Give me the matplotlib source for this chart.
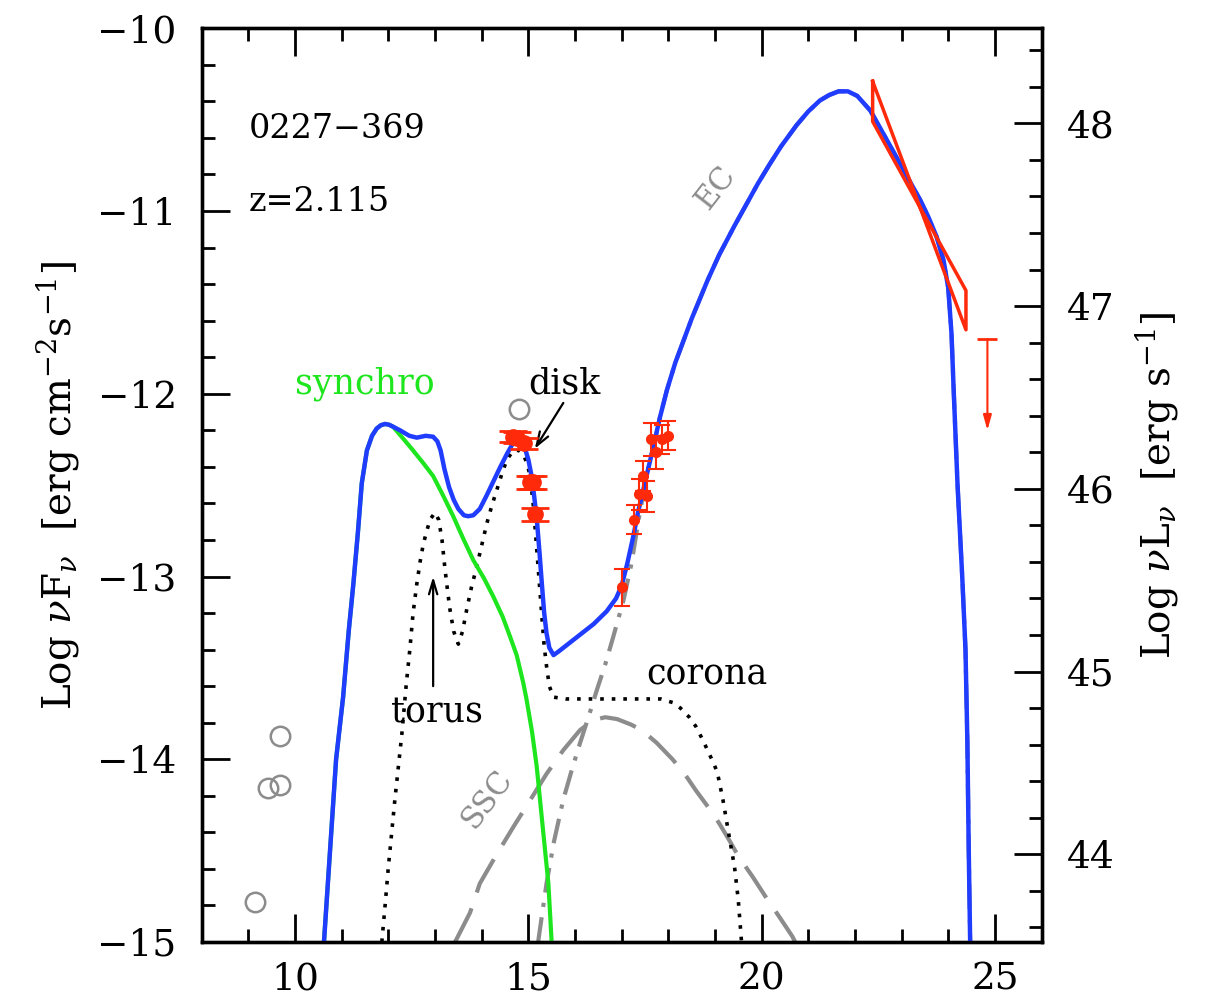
import matplotlib
matplotlib.use("Agg")
import matplotlib.pyplot as plt
from matplotlib.ticker import MultipleLocator

plt.rcParams['font.family'] = ['DejaVu Serif']
plt.rcParams['mathtext.fontset'] = 'dejavuserif'

# ---- SED model components (log nu [Hz], log nuFnu [erg cm^-2 s^-1]) ----
total_x = [10.62, 10.75, 10.88, 11.03, 11.15, 11.25, 11.35, 11.43, 11.54, 11.65,
           11.75, 11.84, 11.93, 12.02, 12.10, 12.25, 12.45, 12.61, 12.80, 12.96,
           13.05, 13.12, 13.20, 13.30, 13.40, 13.50, 13.62, 13.71, 13.82, 13.96,
           14.10, 14.25, 14.40, 14.54, 14.65, 14.75, 14.85, 14.93, 15.00, 15.07,
           15.12, 15.18, 15.24, 15.29, 15.34, 15.39, 15.45, 15.54, 15.65, 15.85,
           16.10, 16.40, 16.68, 16.88, 17.00, 17.12, 17.25, 17.35, 17.46, 17.57,
           17.68, 17.82, 17.97, 18.15, 18.34, 18.50, 18.84, 19.09, 19.42, 19.67,
           19.92, 20.17, 20.42, 20.75, 21.00, 21.25, 21.45, 21.65, 21.85, 22.05,
           22.33, 22.66, 22.90, 23.16, 23.40, 23.57, 23.75, 23.90, 24.00, 24.07,
           24.12, 24.20, 24.30, 24.37, 24.41, 24.44, 24.47]
total_y = [-15.00, -14.50, -14.00, -13.66, -13.30, -13.04, -12.75, -12.49, -12.31, -12.23,
           -12.19, -12.172, -12.165, -12.17, -12.18, -12.20, -12.23, -12.24, -12.23, -12.235,
           -12.26, -12.31, -12.41, -12.51, -12.58, -12.63, -12.665, -12.67, -12.665, -12.63,
           -12.56, -12.48, -12.40, -12.33, -12.28, -12.25, -12.26, -12.30, -12.36, -12.45,
           -12.55, -12.68, -12.87, -13.04, -13.20, -13.31, -13.39, -13.43, -13.41, -13.37,
           -13.32, -13.26, -13.19, -13.12, -13.05, -12.93, -12.78, -12.65, -12.53, -12.41,
           -12.29, -12.13, -11.98, -11.83, -11.70, -11.59, -11.38, -11.24, -11.08, -10.965,
           -10.85, -10.745, -10.645, -10.53, -10.455, -10.395, -10.365, -10.345, -10.345, -10.37,
           -10.45, -10.60, -10.71, -10.83, -10.94, -11.03, -11.14, -11.27, -11.42, -11.67,
           -12.00, -12.50, -13.00, -13.40, -13.90, -14.50, -15.00]

synchro_x = [10.62, 10.75, 10.88, 11.03, 11.15, 11.25, 11.35, 11.43, 11.54, 11.65,
             11.75, 11.84, 11.93, 12.02, 12.10, 12.30, 12.53, 12.75, 12.96, 13.18,
             13.39, 13.60, 13.82, 14.05, 14.25, 14.45, 14.61, 14.75, 14.89, 14.96,
             15.08, 15.18, 15.32, 15.43, 15.50]
synchro_y = [-15.00, -14.50, -14.00, -13.66, -13.30, -13.04, -12.75, -12.49, -12.31, -12.23,
             -12.19, -12.172, -12.165, -12.17, -12.18, -12.24, -12.31, -12.38, -12.45, -12.56,
             -12.67, -12.79, -12.91, -13.01, -13.11, -13.22, -13.33, -13.43, -13.58, -13.67,
             -13.85, -14.04, -14.40, -14.68, -15.00]

thermal_x = [11.86, 11.93, 12.00, 12.14, 12.29, 12.38, 12.46, 12.53, 12.61, 12.68,
             12.75, 12.89, 13.00, 13.08, 13.15, 13.21, 13.27, 13.32, 13.40, 13.50,
             13.59, 13.68, 13.78, 13.89, 14.00, 14.11, 14.22, 14.32, 14.43, 14.54,
             14.68, 14.80, 14.89, 14.97, 15.04, 15.11, 15.18, 15.24, 15.29, 15.34,
             15.39, 15.45, 15.54, 15.80, 16.50, 17.20, 17.84, 18.10, 18.26, 18.45,
             18.59, 18.75, 18.84, 18.95, 19.05, 19.17, 19.29, 19.42, 19.50, 19.57]
thermal_y = [-15.00, -14.80, -14.59, -14.22, -13.86, -13.60, -13.40, -13.20, -13.04, -12.92,
             -12.82, -12.69, -12.65, -12.69, -12.80, -12.95, -13.08, -13.18, -13.30, -13.37,
             -13.30, -13.18, -13.06, -12.95, -12.83, -12.71, -12.61, -12.53, -12.44, -12.36,
             -12.31, -12.31, -12.33, -12.38, -12.45, -12.62, -12.85, -13.05, -13.22, -13.38,
             -13.49, -13.60, -13.66, -13.67, -13.67, -13.67, -13.67, -13.69, -13.72, -13.77,
             -13.82, -13.90, -13.95, -14.01, -14.07, -14.22, -14.40, -14.59, -14.77, -15.00]

ssc_x = [13.43, 13.75, 13.96, 14.30, 14.68, 15.00, 15.39, 15.75, 16.11, 16.40,
         16.65, 16.90, 17.20, 17.43, 17.75, 18.09, 18.35, 18.59, 18.85, 19.09,
         19.30, 19.50, 19.80, 20.08, 20.40, 20.66, 20.72]
ssc_y = [-15.00, -14.84, -14.68, -14.53, -14.37, -14.24, -14.08, -13.95, -13.84, -13.785,
         -13.77, -13.78, -13.81, -13.84, -13.91, -14.00, -14.08, -14.17, -14.26, -14.35,
         -14.44, -14.53, -14.64, -14.75, -14.87, -14.97, -15.00]

ec_x = [15.21, 15.39, 15.55, 15.75, 15.93, 16.11, 16.30, 16.47, 16.65, 16.82,
        17.04, 17.21, 17.39, 17.55, 17.68, 17.82, 17.97, 18.15, 18.34, 18.50,
        18.84, 19.09, 19.42, 19.67, 19.92, 20.17, 20.42, 20.75, 21.00, 21.25,
        21.45, 21.65, 21.85, 22.05, 22.33, 22.66, 22.90, 23.16, 23.40, 23.57,
        23.75, 23.90, 24.00, 24.07, 24.12, 24.20, 24.30, 24.37, 24.41, 24.44,
        24.47]
ec_y = [-15.00, -14.68, -14.45, -14.22, -14.06, -13.91, -13.76, -13.62, -13.48, -13.33,
        -13.13, -12.93, -12.65, -12.43, -12.29, -12.13, -11.98, -11.83, -11.70, -11.59,
        -11.38, -11.24, -11.08, -10.965, -10.85, -10.745, -10.645, -10.53, -10.455, -10.395,
        -10.365, -10.345, -10.345, -10.37, -10.45, -10.60, -10.71, -10.83, -10.94, -11.03,
        -11.14, -11.27, -11.42, -11.67, -12.00, -12.50, -13.00, -13.40, -13.90, -14.50,
        -15.00]

# ---- observed data ----
opt_x = [14.68, 14.76, 14.90, 15.04, 15.10, 15.14]
opt_y = [-12.235, -12.24, -12.27, -12.485, -12.485, -12.66]
opt_err = [0.03, 0.03, 0.03, 0.035, 0.035, 0.035]

xray_x = [17.00, 17.26, 17.38, 17.46, 17.54, 17.64, 17.73, 17.86, 18.00]
xray_y = [-13.06, -12.69, -12.55, -12.45, -12.56, -12.25, -12.32, -12.25, -12.23]
xray_err = [0.10, 0.08, 0.085, 0.08, 0.085, 0.09, 0.09, 0.08, 0.08]

archive_x = [9.14, 9.43, 9.68, 9.68, 14.81]
archive_y = [-14.78, -14.16, -14.14, -13.87, -12.085]

# Fermi/LAT butterfly (closed outline)
bowtie_x = [22.38, 24.38, 24.38, 22.38, 22.38]
bowtie_y = [-10.29, -11.65, -11.435, -10.51, -10.29]

ul_x, ul_y = 24.84, -11.70

LUM_OFFSET = 58.52   # log(4 pi d_L^2) for z = 2.115

BLUE = '#1f3cff'
GREEN = '#1ee61e'
RED = '#ff2a0a'
GREY = '#8c8c8c'

fig = plt.figure(figsize=(12.08, 10), dpi=100)
ax = fig.add_axes([0.167, 0.058, 0.6952, 0.9137])
ax.set_xlim(8, 26)
ax.set_ylim(-15, -10)

# components
ax.plot(ssc_x, ssc_y, color=GREY, lw=3, ls=(0, (9, 4)), zorder=2)
ax.plot(ec_x, ec_y, color=GREY, lw=3, ls=(0, (6, 2.5, 1, 2.5)), zorder=2)
ax.plot(thermal_x, thermal_y, color='black', lw=2.6, ls=(0, (1, 2.2)), zorder=3)
ax.plot(synchro_x, synchro_y, color=GREEN, lw=3, zorder=3, solid_joinstyle='round')
ax.plot(total_x, total_y, color=BLUE, lw=3.2, zorder=4, solid_joinstyle='round')

# data
ax.plot(archive_x, archive_y, 'o', mfc='none', mec=GREY, mew=1.8, ms=14, zorder=5)
ax.errorbar(opt_x, opt_y, yerr=opt_err, fmt='o', color=RED, ms=11,
            elinewidth=2, capsize=10, capthick=2, zorder=6)
ax.errorbar(xray_x, xray_y, yerr=xray_err, fmt='o', color=RED, ms=7,
            elinewidth=1.5, capsize=6, capthick=1.5, zorder=6)
ax.plot(bowtie_x, bowtie_y, color=RED, lw=2.5, zorder=6)
ax.plot([ul_x], [ul_y], marker='_', color=RED, ms=14, mew=2, zorder=6)
ax.annotate('', xy=(ul_x, ul_y - 0.5), xytext=(ul_x, ul_y),
            arrowprops=dict(arrowstyle='-|>,head_length=0.9,head_width=0.25',
                            color=RED, lw=1.5, shrinkA=0, shrinkB=0), zorder=6)

# labels
ax.text(9.0, -10.60, '0227\u2212369', fontsize=24, ha='left', va='baseline')
ax.text(9.0, -11.00, 'z=2.115', fontsize=24, ha='left', va='baseline')
ax.text(10.0, -12.0, 'synchro', fontsize=25, color=GREEN, ha='left', va='baseline')
ax.text(15.0, -12.0, 'disk', fontsize=25, ha='left', va='baseline')
ax.text(13.05, -13.80, 'torus', fontsize=25, ha='center', va='baseline')
ax.text(17.52, -13.59, 'corona', fontsize=25, ha='left', va='baseline')
ax.text(19.02, -10.87, 'EC', fontsize=22, color=GREY, rotation=52,
        ha='center', va='center')
ax.text(14.11, -14.22, 'SSC', fontsize=22, color=GREY, rotation=53,
        ha='center', va='center')

ax.annotate('', xy=(15.14, -12.30), xytext=(15.75, -12.05),
            arrowprops=dict(arrowstyle='->,head_length=1.0,head_width=0.35',
                            color='black', lw=1.6, shrinkA=0, shrinkB=0))
ax.annotate('', xy=(12.96, -13.0), xytext=(12.96, -13.60),
            arrowprops=dict(arrowstyle='->,head_length=1.0,head_width=0.3',
                            color='black', lw=1.6, shrinkA=0, shrinkB=0))

ax.set_ylabel(r'Log $\nu$F$_\nu$  [erg cm$^{-2}$s$^{-1}$]', fontsize=28, labelpad=12)

# right axis in luminosity
ax2 = ax.twinx()
ax2.set_ylim(-15 + LUM_OFFSET, -10 + LUM_OFFSET)
ax2.set_ylabel(r'Log $\nu$L$_\nu$  [erg s$^{-1}$]', fontsize=28, labelpad=14)

ax.xaxis.set_major_locator(MultipleLocator(5))
ax.xaxis.set_minor_locator(MultipleLocator(1))
ax.yaxis.set_major_locator(MultipleLocator(1))
ax.yaxis.set_minor_locator(MultipleLocator(0.2))
ax2.yaxis.set_major_locator(MultipleLocator(1))
ax2.yaxis.set_minor_locator(MultipleLocator(0.2))

ax.tick_params(axis='x', which='both', direction='in', top=True, bottom=True,
               labelsize=27, pad=14)
ax.tick_params(axis='y', which='both', direction='in', left=True, right=False,
               labelsize=27, pad=18)
ax2.tick_params(axis='y', which='both', direction='in', left=False, right=True,
                labelsize=27, pad=18)
for a in (ax, ax2):
    a.tick_params(which='major', length=20, width=2)
    a.tick_params(which='minor', length=9.5, width=2)
    for s in a.spines.values():
        s.set_linewidth(2.4)

fig.savefig('out.png', dpi=100)
